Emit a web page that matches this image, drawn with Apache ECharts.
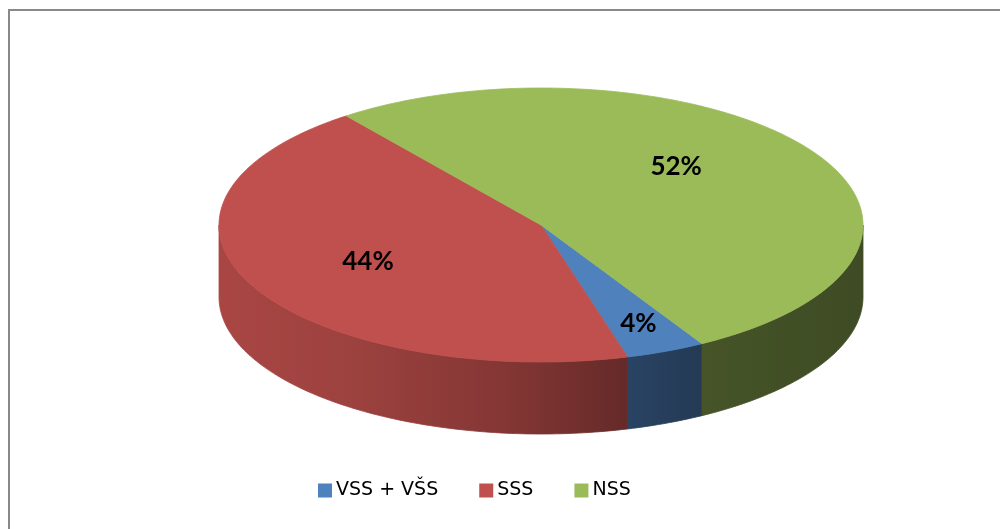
<!DOCTYPE html>
<html>
<head>
<meta charset="utf-8">
<script src="https://cdn.jsdelivr.net/npm/echarts@6/dist/echarts.min.js"></script>
<style>
  html, body { margin: 0; padding: 0; background: #fff; }
  #chart { width: 1000px; height: 529px; }
</style>
</head>
<body>
<div id="chart"></div>
<script>
  // data
  const categories = ['VSS + VŠS', 'SSS', 'NSS']
  const values = [4, 44, 52]
  const colors = ['#4f81bd', '#c0504d', '#9bbb59']

  // layout of the tilted pie (px)
  const cx = 541, cy = 225, rx = 322, ry = 137, depth = 72
  const firstSliceAngle = 150 // degrees, clockwise from 12 o'clock
  const labelR = [0.78, 0.6, 0.6]
  const labelTurn = [0, 0, -12] // degrees, nudges a label along the rim

  const total = values.reduce((s, v) => s + v, 0)
  const starts = []
  values.reduce((acc, v, i) => { starts[i] = acc; return acc + v / total * 360 }, firstSliceAngle)

  function pt (deg, dy) {
    const a = deg * Math.PI / 180
    return [cx + rx * Math.sin(a), cy - ry * Math.cos(a) + (dy || 0)]
  }
  function arc (a1, a2, dy) {
    const pts = []
    const n = Math.max(2, Math.ceil(Math.abs(a2 - a1)))
    for (let k = 0; k <= n; k++) pts.push(pt(a1 + (a2 - a1) * k / n, dy))
    return pts
  }
  function shade (hex, f) {
    const n = parseInt(hex.slice(1), 16)
    const r = Math.round(((n >> 16) & 255) * f)
    const g = Math.round(((n >> 8) & 255) * f)
    const b = Math.round((n & 255) * f)
    return 'rgb(' + r + ',' + g + ',' + b + ')'
  }
  function wallFill (hex) {
    const stops = [[0, 0.88], [0.2, 0.82], [0.45, 0.68], [0.64, 0.52], [0.75, 0.45], [1, 0.4]]
    return {
      type: 'linear', x: cx - rx, y: 0, x2: cx + rx, y2: 0, global: true,
      colorStops: stops.map(s => ({ offset: s[0], color: shade(hex, s[1]) }))
    }
  }

  function makeRender (i) {
    return function (params, api) {
      const span = api.value(0) / total * 360
      const a1 = starts[i], a2 = a1 + span
      const children = []
      // side wall, only the front half is visible
      for (let k = -1; k <= 2; k++) {
        const lo = Math.max(a1, 90 + 360 * k)
        const hi = Math.min(a2, 270 + 360 * k)
        if (lo < hi) {
          const pts = arc(lo, hi, 0).concat(arc(hi, lo, depth))
          const fill = wallFill(colors[i])
          children.push({ type: 'polygon', shape: { points: pts }, style: { fill: fill, stroke: fill, lineWidth: 0.8 } })
        }
      }
      // top face
      const top = [[cx, cy]].concat(arc(a1, a2, 0))
      children.push({ type: 'polygon', shape: { points: top }, style: { fill: colors[i], stroke: colors[i], lineWidth: 0.8 } })
      // data label
      const mid = ((a1 + a2) / 2 + labelTurn[i]) * Math.PI / 180
      children.push({
        type: 'text', z2: 100,
        style: {
          text: Math.round(api.value(0) / total * 100) + '%',
          x: cx + rx * labelR[i] * Math.sin(mid),
          y: cy - ry * labelR[i] * Math.cos(mid),
          fill: '#000', fontSize: 26, fontWeight: 'bold', fontFamily: 'Lato',
          align: 'center', verticalAlign: 'middle'
        }
      })
      return { type: 'group', children: children }
    }
  }

  const chart = echarts.init(document.getElementById('chart'), null, { renderer: 'canvas' })
  chart.setOption({
    animation: false,
    graphic: [{
      type: 'rect', shape: { x: 9, y: 10, width: 1100, height: 600 },
      style: { fill: 'none', stroke: '#898989', lineWidth: 2 }
    }],
    legend: {
      data: categories,
      left: 313, top: 476,
      icon: 'rect', itemWidth: 14, itemHeight: 14, itemGap: 41,
      textStyle: { fontFamily: 'DejaVu Sans', fontSize: 19, color: '#000', padding: [3, 0, 0, -1] }
    },
    series: categories.map((name, i) => ({
      type: 'custom',
      name: name,
      coordinateSystem: 'none',
      itemStyle: { color: colors[i] },
      data: [[values[i]]],
      renderItem: makeRender(i)
    }))
  })
</script>
</body>
</html>
